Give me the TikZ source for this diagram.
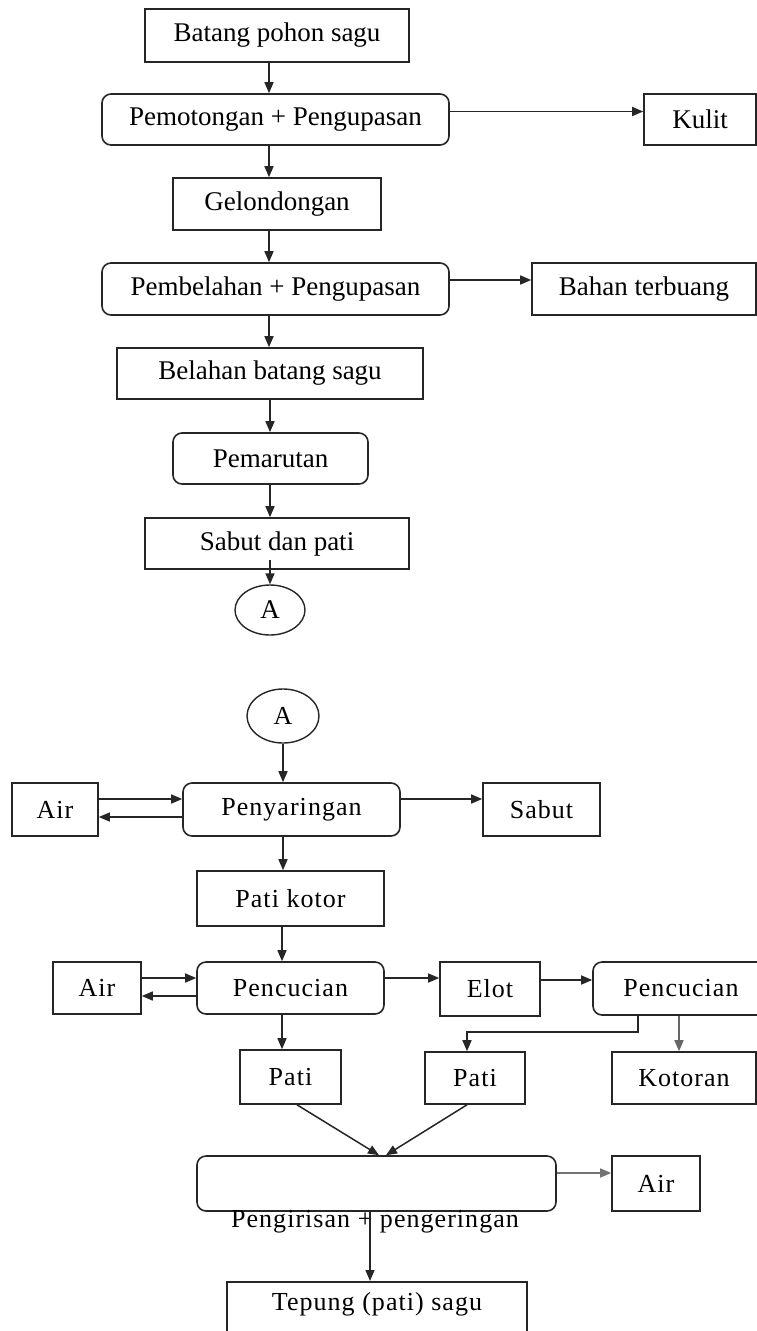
\documentclass[tikz,border=0pt]{standalone}
\usepackage{fontspec}
\setmainfont{Liberation Serif}
\newfontfamily\spaced[LetterSpace=4]{Liberation Serif}
\usetikzlibrary{arrows.meta,shapes.geometric}
\tikzset{
  bx/.style 2 args={draw=black!85, line width=1.6pt, rectangle, inner sep=0pt,
    minimum width=#1pt, minimum height=#2pt},
  rbx/.style 2 args={bx={#1}{#2}, rounded corners=9pt},
  conn/.style 2 args={draw=black!85, line width=1.4pt, ellipse, inner sep=0pt,
    minimum width=#1pt, minimum height=#2pt},
  arr/.style={draw=black!85, line width=1.5pt, -{Triangle[length=11pt,width=9pt]}},
  upper/.style={font=\fontsize{27}{31}\selectfont},
  lower/.style={font=\spaced\fontsize{26}{30}\selectfont}
}
\begin{document}
\begin{tikzpicture}[x=1pt,y=-1pt]
\useasboundingbox (0,0) rectangle (757,1331);
\clip (0,0) rectangle (757,1331);
\fill[white] (0,0) rectangle (757,1331);

% ---------- upper part ----------
\begin{scope}[every node/.append style={upper}]
\node[bx={264}{53}] (batang) at (277,35.5) {Batang pohon sagu};
\node[rbx={347}{51}] (pemot) at (275.5,119.5) {Pemotongan + Pengupasan};
\node[bx={112}{51}] (kulit) at (700,119.5) {Kulit};
\node[bx={208}{52}] (gelond) at (277,204) {Gelondongan};
\node[rbx={347}{52}] (pembel) at (275.5,289) {Pembelahan + Pengupasan};
\node[bx={224}{52}] (bahan) at (644,289) {Bahan terbuang};
\node[bx={306}{51}] (belah) at (270,373.5) {Belahan batang sagu};
\node[rbx={195}{51}] (parut) at (270.5,458.5) {Pemarutan};
\node[bx={264}{51}] (sdp) at (277,543.5) {Sabut dan pati};
\node[conn={70}{50}] (a1) at (270,610) {A};
\end{scope}

\coordinate (s1) at (269,0);
\coordinate (s2) at (270,0);
\draw[arr] (batang.south -| s1) -- (pemot.north -| s1);
\draw[arr] (pemot.south -| s1) -- (gelond.north -| s1);
\draw[arr] (gelond.south -| s1) -- (pembel.north -| s1);
\draw[arr] (pembel.south -| s1) -- (belah.north -| s1);
\draw[arr] (belah.south -| s2) -- (parut.north -| s2);
\draw[arr] (parut.south -| s2) -- (sdp.north -| s2);
\draw[arr] ([yshift=10pt]sdp.south -| a1) -- (a1.north);
\draw[arr] ([yshift=8pt]pemot.east) -- ([yshift=8pt]kulit.west);
\draw[arr] ([yshift=9pt]pembel.east) -- ([yshift=9pt]bahan.west);

% ---------- lower part ----------
\begin{scope}[every node/.append style={lower}]
\node[conn={72}{54}] (a2) at (283,716) {A};
\node[rbx={217}{53}] (peny) at (291.5,809.5) {Penyaringan};
\node[bx={86}{53}] (air1) at (55,809.5) {Air};
\node[bx={117}{53}] (sabut) at (541.5,809.5) {Sabut};
\node[bx={187}{55}] (pk) at (290.5,898.5) {Pati kotor};
\node[rbx={187}{52}] (cuci1) at (290.5,988) {Pencucian};
\node[bx={88}{52}] (air2) at (97,988) {Air};
\node[bx={100}{54}] (elot) at (490,989) {Elot};
\node[rbx={176}{53}] (cuci2) at (681,988.5) {Pencucian};
\node[bx={101}{54}] (pati1) at (290.5,1077) {Pati};
\node[bx={100}{52}] (pati2) at (475,1078) {Pati};
\node[bx={144}{52}] (kotor) at (684,1078) {Kotoran};
\node[rbx={359}{55}] (big) at (376.5,1183.5) {};
\node[inner sep=0pt] (biglbl) at (375,1222) {Pengirisan + pengeringan};
\node[bx={88}{55}] (air3) at (656,1183.5) {Air};
\node[bx={300}{50}, anchor=north, text height=29pt, text depth=60pt] (tepung) at (377,1281) {Tepung (pati) sagu};
\end{scope}

\coordinate (s3) at (282,0);
\coordinate (s4) at (638,1032);
\coordinate (s5) at (467,0);
\coordinate (s6) at (679,0);
\coordinate (s7) at (370,0);
\draw[arr] (a2.south) -- (peny.north -| a2);
\draw[arr] ([yshift=10.5pt]air1.east) -- ([yshift=10.5pt]peny.west);
\draw[arr] ([yshift=-7.5pt]peny.west) -- ([yshift=-7.5pt]air1.east);
\draw[arr] ([yshift=10.5pt]peny.east) -- ([yshift=10.5pt]sabut.west);
\draw[arr] (peny.south -| a2) -- (pk.north -| a2);
\draw[arr] (pk.south -| s3) -- (cuci1.north -| s3);
\draw[arr] ([yshift=10pt]air2.east) -- ([yshift=10pt]cuci1.west);
\draw[arr] ([yshift=-8pt]cuci1.west) -- ([yshift=-8pt]air2.east);
\draw[arr] ([yshift=10pt]cuci1.east) -- ([yshift=10pt]cuci1.east -| elot.west);
\draw[arr] ([yshift=9pt]elot.east) -- ([yshift=9pt]elot.east -| cuci2.west);
\draw[arr] (cuci1.south -| s3) -- (pati1.north -| s3);
\draw[arr] (cuci2.south -| s4) -- (s4) -| (pati2.north -| s5);
\draw[arr, draw=black!60] (cuci2.south -| s6) -- (kotor.north -| s6);
\draw[arr] ([xshift=6.5pt]pati1.south) -- ([xshift=2.5pt]big.north);
\draw[arr] ([xshift=-8pt]pati2.south) -- ([xshift=9.5pt]big.north);
\draw[arr, draw=black!55] ([yshift=10.5pt]big.east) -- ([yshift=10.5pt]big.east -| air3.west);
\draw[arr] (big.south -| s7) -- (tepung.north -| s7);
\end{tikzpicture}
\end{document}
